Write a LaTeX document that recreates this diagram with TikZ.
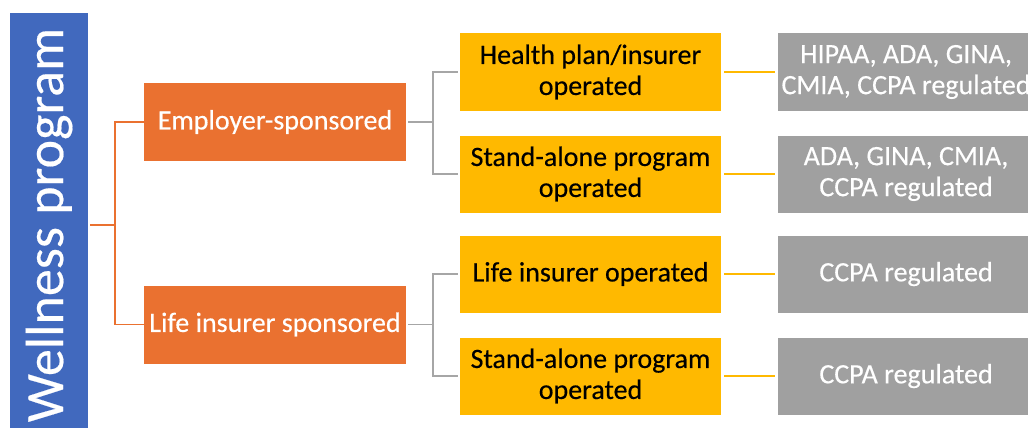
\documentclass[tikz,border=0pt]{standalone}
\usepackage{fontspec}
\setmainfont{Carlito}
\newfontfamily\boxfont{Carlito}[FakeBold=0.35]
\definecolor{wpblue}{HTML}{4169BE}
\definecolor{sporange}{HTML}{EA7130}
\definecolor{opgold}{HTML}{FFB900}
\definecolor{reggray}{HTML}{A0A0A0}
\definecolor{linegray}{HTML}{A6A6A6}
\begin{document}
\begin{tikzpicture}[x=1pt,y=-1pt,
  box/.style={rectangle,inner sep=0pt,align=center,font=\boxfont\fontsize{28}{31}\selectfont},
  sponsor/.style={box,fill=sporange,text=white,minimum width=262pt,minimum height=78pt},
  operator/.style={box,fill=opgold,text=black,minimum width=261pt,minimum height=77pt},
  rule/.style={box,fill=reggray,text=white,minimum width=256pt,minimum height=77pt},
  orangeline/.style={draw=sporange,line width=1.5pt},
  grayline/.style={draw=linegray,line width=1.5pt},
  goldline/.style={draw=opgold,line width=2pt,shorten <=3pt,shorten >=3pt}]
\useasboundingbox (0,0) rectangle (1028,428);
\fill[white] (0,0) rectangle (1028,428);

\node[box,rotate=90,fill=wpblue,text=white,minimum width=424pt,minimum height=78pt,
  font=\boxfont\fontsize{54}{60}\selectfont] (wp) at (49,225) {Wellness program};

\node[sponsor] (emp) at (275,122) {Employer-sponsored};
\node[sponsor] (life) at (275,324.5) {Life insurer sponsored};

\node[operator] (hp) at (590.5,72) {Health plan/insurer\\operated};
\node[operator] (sa1) at (590.5,174) {Stand-alone program\\operated};
\node[operator] (lio) at (590.5,274) {Life insurer operated};
\node[operator] (sa2) at (590.5,376) {Stand-alone program\\operated};

\node[rule] (r1) at (906,72) {HIPAA, ADA, GINA,\\CMIA, CCPA regulated};
\node[rule] (r2) at (906,174) {ADA, GINA, CMIA,\\CCPA regulated};
\node[rule] (r3) at (906,274) {CCPA regulated};
\node[rule] (r4) at (906,376) {CCPA regulated};

\draw[orangeline] (wp.south) ++(2,0) -- ++(25,0) coordinate (jw);
\draw[orangeline] (jw) |- (emp.west);
\draw[orangeline] (jw) |- (life.west);

\draw[grayline] (emp.east) ++(2,0) -- ++(25,0) coordinate (je);
\draw[grayline] (je) |- ([xshift=-2pt]hp.west);
\draw[grayline] (je) |- ([xshift=-2pt]sa1.west);
\draw[grayline] (life.east) ++(2,0) -- ++(25,0) coordinate (jl);
\draw[grayline] (jl) |- ([xshift=-2pt]lio.west);
\draw[grayline] (jl) |- ([xshift=-2pt]sa2.west);

\draw[goldline] (hp) -- (r1);
\draw[goldline] (sa1) -- (r2);
\draw[goldline] (lio) -- (r3);
\draw[goldline] (sa2) -- (r4);
\end{tikzpicture}
\end{document}
